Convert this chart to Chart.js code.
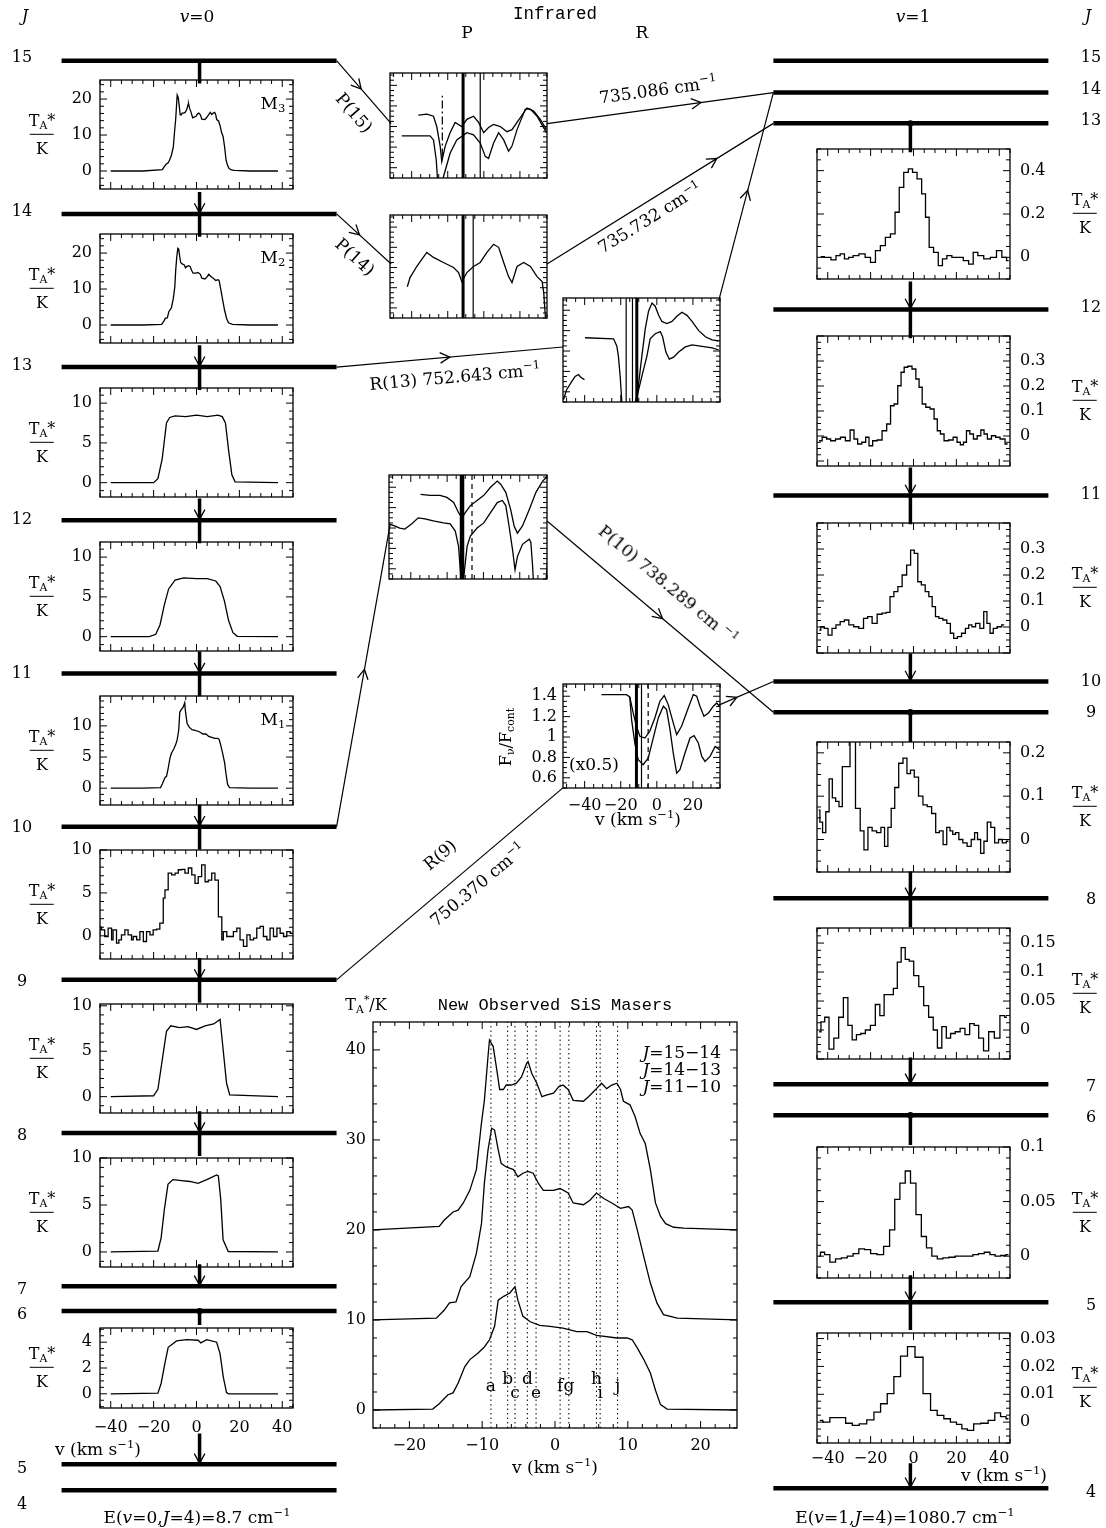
<!DOCTYPE html>
<html>
<head>
<meta charset="utf-8">
<title>SiS masers level diagram</title>
<script src="https://cdn.jsdelivr.net/npm/chart.js@4.4.1/dist/chart.umd.min.js"></script>
<style>
  html, body { margin: 0; padding: 0; background: #fff; }
  #page { position: relative; width: 1106px; height: 1528px; overflow: hidden; background: #fff;
          font-family: "DejaVu Serif", serif; color: #000; }
  #page canvas { position: absolute; }
  .t { position: absolute; white-space: nowrap; font-size: 17px; line-height: 1; }
  .t sup { font-size: 0.68em; vertical-align: 0.6em; line-height: 0; }
  .t sub { font-size: 0.68em; vertical-align: -0.3em; line-height: 0; }
  .mono { font-family: "Liberation Mono", "DejaVu Sans Mono", monospace; }
  .frac { display: flex; flex-direction: column; align-items: center; font-size: 16px; }
  .frac .bar { width: 24px; height: 1.4px; background: #000; margin: 5px 0 6px; }
</style>
</head>
<body>
<div id="page"><canvas id="diagram"></canvas></div>
<script>
Chart.defaults.font.family = '"DejaVu Serif", serif';
Chart.defaults.font.size = 16;
Chart.defaults.color = '#000';

// ---------------- data ----------------
// rotational levels J of the two ladders
const levelsJ = [15, 14, 13, 12, 11, 10, 9, 8, 7, 6, 5, 4];

// v=0 spectra, velocity (km/s) and TA* (K)
const velV0_1514 = [-40, -25, -15.9, -15.2, -14.0, -13.3, -12.6, -11.7, -10.8, -10.1, -9.7, -9.2, -9.0, -8.5, -8.0, -7.6, -7.1, -6.7, -6.0, -5.3, -4.6, -3.9, -3.7, -3.2, -2.5, -1.8, -1.1, -0.2, 0.5, 1.1, 1.8, 2.5, 3.9, 4.6, 5.7, 6.4, 7.1, 7.8, 8.5, 9.0, 9.4, 10.3, 11.0, 11.7, 12.4, 13.1, 13.8, 14.5, 15.2, 16.3, 17.7, 25, 38];
const taV0_1514 = [0, 0, 0.4, 1.1, 2.0, 2.2, 3.0, 4.4, 6.7, 11.9, 14.4, 19.3, 21.1, 20.4, 17.8, 15.6, 15.6, 16.1, 16.1, 16.3, 17.0, 18.5, 18.7, 17.4, 16.3, 14.8, 15.0, 15.2, 15.9, 16.1, 15.6, 14.4, 14.3, 14.8, 15.7, 16.3, 15.7, 16.1, 16.3, 15.6, 14.3, 13.9, 12.6, 10.7, 9.6, 6.7, 3.0, 1.5, 0.7, 0.3, 0.2, 0, 0];
const velV0_1413 = [-40, -25, -16.3, -15.2, -14.5, -13.6, -12.9, -11.7, -10.8, -10.1, -9.7, -9.2, -8.7, -8.3, -7.8, -7.4, -6.7, -5.7, -5.1, -4.4, -3.7, -3.0, -2.3, -1.6, -0.2, 0.7, 1.8, 2.5, 3.9, 4.8, 5.7, 6.7, 7.8, 9.0, 10.1, 10.6, 11.3, 12.2, 13.1, 14.0, 14.9, 16.8, 25, 38];
const taV0_1413 = [0, 0, 0.2, 1.1, 1.9, 2.0, 3.7, 4.8, 7.4, 10.7, 15.2, 18.9, 21.3, 21.1, 18.9, 17.4, 17.0, 16.7, 15.9, 16.3, 16.5, 16.3, 15.2, 14.4, 14.4, 14.6, 14.1, 13.0, 12.8, 13.3, 14.1, 13.5, 13.0, 12.4, 12.6, 12.2, 10.0, 7.0, 4.1, 1.9, 0.6, 0.2, 0, 0];
const velV0_1312 = [-40, -20, -18, -16, -14, -12.5, -10, -5, 0, 5, 10, 12, 13.5, 15, 16.5, 18, 38];
const taV0_1312 = [0, 0, 0.5, 3, 7.5, 8.2, 8.4, 8.3, 8.5, 8.3, 8.5, 8.3, 7.5, 4, 1, 0.1, 0];
const velV0_1211 = [-40, -22, -19, -17, -15, -13, -10, -6, 0, 5, 9, 11, 13, 15, 17, 19, 38];
const taV0_1211 = [0, 0, 0.3, 1.5, 4, 6, 7.1, 7.4, 7.3, 7.3, 7.0, 6.3, 4.5, 2, 0.5, 0.05, 0];
const velV0_1110 = [-40, -25, -16.8, -15.9, -14.7, -14.0, -13.3, -12.4, -11.7, -10.6, -9.7, -9.0, -8.3, -7.8, -7.1, -6.2, -5.5, -5.1, -4.4, -3.4, -2.1, -0.7, 1.1, 3.0, 4.4, 5.7, 8.5, 9.9, 10.6, 11.3, 12.2, 13.1, 13.8, 14.5, 15.4, 25, 38];
const taV0_1110 = [0, 0, 0.1, 0.7, 1.7, 1.9, 3.0, 4.8, 5.6, 6.3, 7.0, 7.8, 9.3, 12.2, 12.6, 13.0, 13.7, 12.2, 10.4, 9.8, 9.4, 9.3, 9.1, 8.7, 8.7, 8.3, 8.0, 8.0, 7.8, 6.9, 5.6, 4.1, 2.2, 0.6, 0.1, 0, 0];
const velV0_1009 = [-45.1, -44.3, -42.8, -41.2, -39.6, -38.9, -37.3, -36.2, -35.0, -33.4, -31.9, -30.3, -29.5, -27.9, -26.4, -24.8, -23.3, -21.7, -20.2, -18.6, -17.1, -15.5, -14.7, -13.2, -11.6, -10.0, -8.5, -6.9, -5.4, -3.8, -2.2, -0.7, 0.8, 2.4, 4.0, 5.5, 7.1, 8.6, 10.2, 11.8, 12.5, 14.1, 15.7, 17.2, 18.8, 20.3, 21.9, 23.5, 25.0, 26.6, 28.1, 29.7, 31.2, 32.8, 34.3, 35.9, 37.5, 39.0, 40.6, 42.1, 43.7, 45.2];
const taV0_1009 = [0.12, 1.0, 0.7, -0.08, 0.9, -0.47, 0.7, -0.85, -0.47, 0.12, 0.7, 0.12, -0.47, -0.08, -0.47, 0.5, -0.66, 0.5, 0.12, 0.7, 0.78, 1.47, 4.4, 5.35, 7.3, 7.1, 7.3, 7.7, 7.75, 7.3, 7.9, 7.1, 6.1, 6.9, 8.26, 6.3, 6.5, 7.3, 6.5, 2.2, -0.47, 0.5, -0.08, -0.08, 0.5, 0.9, -0.47, -1.24, 0.12, -0.47, -0.27, 0.9, 1.1, -0.08, -0.47, 0.9, -0.08, 0.9, 0.3, -0.08, 0.5, 0.3];
const velV0_0908 = [-40, -20, -18, -16, -14, -12, -8, -4, 0, 4, 8, 11, 12.5, 14, 15.5, 38];
const taV0_0908 = [0, 0.1, 0.8, 4, 7.2, 7.8, 7.6, 7.7, 7.4, 7.8, 8.0, 8.5, 5, 1.5, 0.2, 0];
const velV0_0807 = [-40, -18, -16.5, -15, -13.3, -11, -7, -3, 0.7, 4.8, 9.4, 10.2, 11.3, 12.4, 14.8, 38];
const taV0_0807 = [0, 0.1, 1.5, 4.5, 7.2, 7.7, 7.6, 7.5, 7.3, 7.7, 8.2, 8.1, 5.6, 1.3, 0.05, 0];
const velV0_0605 = [-40, -18, -16.5, -14.7, -13.2, -9.3, -4.6, 0.8, 2, 4.8, 9.4, 11, 12.5, 14, 15, 38];
const taV0_0605 = [0, 0.05, 0.8, 2.4, 3.6, 4.1, 4.2, 4.15, 3.95, 4.2, 4.0, 3.1, 1.3, 0.1, 0, 0];

// v=1 spectra (channel centres)
const velV1_1312 = [-43.3, -39.9, -37.1, -35.2, -33.2, -31.2, -29.3, -27.0, -23.9, -21.2, -18.9, -16.6, -14.3, -11.9, -9.6, -7.6, -5.7, -3.4, -1.4, 0.5, 2.8, 4.8, 6.4, 8.2, 10.5, 12.6, 14.4, 16.7, 19.1, 21.9, 24.5, 26.9, 28.8, 31.2, 34.3, 37.4, 40.0, 42.4, 44.4];
const taV1_1312 = [0.003, 0, -0.012, 0.008, 0.016, -0.007, 0, 0.008, 0.016, 0, -0.023, 0.031, 0.054, 0.092, 0.108, 0.208, 0.323, 0.392, 0.408, 0.392, 0.362, 0.293, 0.185, 0.046, 0.023, -0.038, -0.007, 0.008, 0, 0, -0.015, -0.031, 0.023, 0.008, -0.007, 0, 0.031, 0, -0.015];
const velV1_1211 = [-44.0, -41.2, -39.8, -37.5, -35.2, -32.9, -30.6, -28.5, -27.0, -25.1, -23.1, -21.5, -20.0, -18.1, -15.8, -13.5, -11.5, -9.9, -8.2, -6.5, -5.1, -3.6, -1.7, 0.3, 1.9, 3.3, 4.8, 6.7, 8.8, 10.4, 11.8, 13.3, 15.2, 17.5, 19.5, 21.1, 22.6, 24.0, 25.4, 27.1, 28.8, 30.6, 32.2, 33.6, 35.3, 37.4, 39.2, 41.5, 43.9];
const taV1_1211 = [-0.019, -0.005, -0.012, -0.019, -0.012, -0.005, -0.019, 0.024, -0.012, -0.032, -0.025, -0.005, -0.039, -0.019, -0.016, 0.021, 0.048, 0.121, 0.128, 0.201, 0.255, 0.275, 0.279, 0.268, 0.228, 0.195, 0.128, 0.115, 0.108, 0.068, 0.021, 0.008, -0.019, -0.016, -0.005, -0.025, -0.035, -0.025, 0.021, 0.008, -0.012, 0.001, 0.024, 0.008, -0.012, 0.001, -0.005, -0.012, -0.032];
const velV1_1110 = [-44.0, -42.5, -40.8, -38.9, -37.1, -35.2, -33.2, -31.3, -29.0, -26.7, -24.3, -22.3, -20.5, -18.1, -15.8, -13.6, -11.8, -10.1, -8.2, -6.4, -4.2, -2.2, -0.5, 1.2, 2.8, 4.5, 6.4, 7.9, 9.5, 11.0, 12.7, 14.7, 16.4, 18.0, 19.5, 21.4, 23.4, 25.0, 26.5, 28.0, 29.9, 32.0, 33.5, 35.0, 36.4, 38.0, 40.0, 42.3];
const taV1_1110 = [-0.012, 0.001, -0.005, -0.031, -0.005, 0.008, 0.021, 0.027, 0.008, 0.001, -0.005, 0.033, 0.040, 0.014, 0.049, 0.053, 0.056, 0.117, 0.136, 0.155, 0.2, 0.238, 0.296, 0.283, 0.174, 0.162, 0.136, 0.117, 0.078, 0.040, 0.033, 0.027, 0.014, -0.024, -0.044, -0.037, -0.024, -0.005, 0.008, 0.001, 0.014, -0.005, 0.059, 0.014, -0.024, -0.005, 0.001, 0.008];
const velV1_0908 = [-44.2, -43.1, -41.7, -40.1, -38.6, -37.1, -35.5, -34.0, -32.4, -30.8, -28.4, -25.7, -24.0, -22.2, -20.3, -18.3, -16.1, -14.3, -12.7, -11.2, -9.6, -7.9, -5.9, -3.9, -2.2, -0.6, 1.3, 3.4, 5.4, 7.4, 9.5, 11.2, 12.9, 14.7, 16.3, 17.7, 18.9, 20.3, 22.0, 24.0, 26.0, 27.8, 29.2, 30.5, 32.1, 33.6, 35.2, 36.9, 38.8, 40.5, 42.3, 44.3];
const taV1_0908 = [0.068, 0.04, 0.016, 0.064, 0.14, 0.096, 0.088, 0.076, 0.168, 0.168, 0.35, 0.072, 0.02, -0.024, 0.028, 0.02, 0.016, 0.028, -0.016, 0.028, 0.072, 0.12, 0.176, 0.188, 0.152, 0.16, 0.144, 0.1, 0.08, 0.076, 0.06, 0.016, 0.02, -0.012, 0.028, 0.02, 0.012, 0.016, 0, -0.008, -0.016, 0, 0.016, 0, -0.032, -0.004, 0.04, 0.028, -0.008, 0, -0.008, -0.004];
const velV1_0807 = [-44.0, -42.3, -40.5, -38.3, -36.0, -33.8, -31.6, -29.6, -27.6, -25.6, -23.6, -21.3, -18.9, -16.7, -14.7, -12.7, -10.4, -8.4, -6.7, -4.8, -2.9, -1.1, 1.3, 3.6, 5.9, 8.2, 10.2, 12.1, 14.3, 16.3, 18.3, 20.6, 22.9, 25.1, 27.3, 29.3, 31.5, 33.8, 36.3, 39.1, 41.5, 43.6];
const taV1_0807 = [-0.003, 0.014, 0.022, -0.033, -0.014, 0.022, 0.056, 0.008, -0.017, -0.008, -0.006, 0, 0.008, 0.044, 0.025, 0.061, 0.061, 0.072, 0.117, 0.142, 0.122, 0.119, 0.094, 0.075, 0.042, 0.022, 0, -0.031, 0.006, -0.014, -0.006, -0.003, 0.003, -0.008, 0.011, 0.008, -0.014, -0.036, -0.003, -0.014, 0.025, 0.022];
const velV1_0605 = [-44.2, -42.6, -40.3, -37.7, -35.0, -32.3, -29.5, -26.8, -24.2, -21.4, -18.6, -15.5, -12.4, -9.9, -7.6, -5.1, -2.6, -0.2, 2.5, 4.8, 7.3, 9.8, 12.4, 15.0, 18.0, 20.8, 23.6, 26.4, 29.0, 31.6, 34.4, 36.9, 39.2, 42.0, 44.3];
const taV1_0605 = [0, 0.0036, 0.0015, -0.0055, -0.0024, -0.0015, 0, 0.0024, 0.0067, 0.006, 0.0024, 0.0015, 0.009, 0.024, 0.052, 0.067, 0.078, 0.067, 0.038, 0.018, 0.0076, 0, -0.0024, -0.0015, -0.001, 0, 0, 0, 0.0015, 0.0024, 0.0036, 0.0015, 0, 0.0006, 0.0015];
const velV1_0504 = [-43.7, -40.9, -37.1, -33.2, -30.1, -27.0, -23.6, -20.0, -16.9, -13.8, -10.7, -7.6, -4.5, -1.1, 2.5, 6.4, 9.5, 12.6, 15.7, 18.7, 21.4, 23.7, 26.5, 29.6, 33.0, 36.6, 39.2, 42.0, 44.3];
const taV1_0504 = [0.0006, 0, 0.0016, 0.0016, -0.0004, -0.0012, -0.0006, 0.0008, 0.0036, 0.0066, 0.0102, 0.0163, 0.0237, 0.0271, 0.0233, 0.0102, 0.0042, 0.0024, 0.0012, 0, -0.0008, -0.0024, -0.003, -0.0006, -0.0004, 0.0006, 0.0033, 0.002, 0.0012];

// infrared line profiles, velocity (km/s) and F/Fcont (null = gap)
const irP15aV = [-36.3, -31.6, -27.9, -26.1, -24.2, -23.3, -21.4, -18.7, -15.9, -12.2, -9.4, -5.7, -2.9, -0.1, 2.6, 5.4, 9.1, 12.8, 15.6, 18.4, 23.9, 27.6, 31.3, 34.7];
const irP15aF = [1.11, 1.12, 1.10, 1.00, 0.81, 0.66, 0.81, 0.94, 1.04, 1.00, 1.07, 1.10, 1.04, 0.94, 0.99, 1.02, 1.00, 0.95, 0.97, 1.04, 1.18, 1.15, 1.07, 0.97];
const irP15bV = [-45.5, -29.8, -27.9, -26.4, -25.7, -25.0, -23.0, -22.4, -18.7, -15, -9.4, -5.7, -2, 0.8, 2.6, 5.4, 8.2, 11, 13.7, 15.6, 18.4, 23, 25.8, 29.5, 34.7];
const irP15bF = [0.91, 0.91, 0.87, 0.68, 0.50, 0.3, 0.3, 0.51, 0.74, 0.87, 0.94, 0.92, 0.84, 0.71, 0.69, 0.84, 0.94, 0.87, 0.76, 0.81, 0.97, 1.17, 1.17, 1.10, 0.94];
const irP14V = [-42.4, -40.9, -37.2, -34.4, -31.6, -27.9, -22.4, -16.8, -14, -12.2, -9.4, -5.7, -2, 1.7, 5.4, 8.2, 11, 13.7, 15.6, 18.4, 22.1, 25.8, 29.5, 32.3, 33.2, 34.1];
const irP14F = [0.81, 0.90, 1.01, 1.08, 1.15, 1.10, 1.05, 1.00, 0.95, 0.86, 0.95, 1.01, 1.05, 1.15, 1.23, 1.20, 1.05, 0.91, 0.85, 1.01, 1.05, 1.01, 0.91, 0.86, 0.75, 0.51];
const irR13aV = [-39.8, -24.0, -22.2, -21.3, -20.3, -19.4, -18.5, -11.8, -11.1, -10.1, -8.3, -6.4, -4.6, -2.7, -0.9, 1.0, 2.8, 5.6, 8.4, 11.1, 13.9, 16.7, 19.5, 23.2, 26.9, 30.6, 34.3];
const irR13aF = [1.13, 1.12, 1.05, 0.95, 0.75, 0.50, 0.3, 0.3, 0.50, 0.68, 0.95, 1.22, 1.39, 1.47, 1.44, 1.35, 1.29, 1.27, 1.29, 1.34, 1.38, 1.35, 1.29, 1.20, 1.14, 1.11, 1.10];
const irR13bV = [-51.8, -50, -47.2, -45.3, -43.5, -42, -40.1, -26, -12.8, -12, -10.1, -7.9, -5.5, -3.7, -0.9, 1.9, 3.2, 5.0, 6.9, 9.3, 12.1, 15.8, 19.5, 23.2, 26.9, 30.6, 34.3];
const irR13bF = [0.52, 0.62, 0.70, 0.75, 0.77, 0.74, 0.72, null, 0.3, 0.50, 0.62, 0.78, 0.95, 1.12, 1.17, 1.19, 1.14, 0.99, 0.92, 0.94, 0.99, 1.04, 1.06, 1.05, 1.04, 1.03, 1.01];
const irP10aV = [-34.6, -29.4, -23.9, -20.1, -16.4, -13.7, -11.8, -10.0, -7.2, -3.5, 0.2, 3.9, 7.6, 9.5, 12.3, 15.0, 16.9, 18.7, 21.5, 25.2, 28.9, 32.6, 35.4];
const irP10aF = [1.33, 1.32, 1.32, 1.30, 1.25, 1.15, 1.10, 1.15, 1.22, 1.27, 1.32, 1.40, 1.46, 1.43, 1.35, 1.18, 1.02, 0.95, 1.02, 1.18, 1.35, 1.46, 1.51];
const irP10bV = [-52, -48.9, -46.1, -43.3, -39.6, -35.9, -32.2, -27.6, -22.0, -18.3, -15.5, -13.7, -12.4, -12.0, -11.3, -10.9, -9.0, -7.2, -3.5, 0.2, 3.9, 7.6, 10.4, 12.3, 14.1, 16.0, 17.4, 18.7, 21.5, 25.2, 26.1, 27.1, 28.0, 33.6, 35.4];
const irP10bF = [1.04, 1.02, 1.00, 0.99, 1.04, 1.10, 1.09, 1.07, 1.05, 1.04, 0.97, 0.82, 0.51, 0.3, 0.3, 0.51, 0.82, 0.92, 1.00, 1.05, 1.15, 1.25, 1.27, 1.22, 1.02, 0.79, 0.59, 0.72, 0.84, 0.89, 0.86, 0.62, 0.3, 0.3, 0.69];
const irR9aV = [-30.7, -16.8, -15, -13.1, -11.3, -9.4, -6.6, -3.9, -1.1, 1.7, 4.1, 6.3, 9.1, 11.0, 13.7, 17.4, 20.2, 22.1, 23.9, 26.1, 28.6, 31.3, 33.2, 34.7];
const irR9aF = [1.416, 1.416, 1.393, 1.236, 1.105, 1.007, 0.99, 1.056, 1.187, 1.351, 1.407, 1.318, 1.138, 1.023, 1.105, 1.285, 1.416, 1.4, 1.302, 1.203, 1.236, 1.302, 1.334, 1.302];
const irR9bV = [-15, -14.0, -12.2, -10.3, -7.6, -4.8, -2.0, 0.8, 3.6, 5.4, 7.3, 9.1, 11.0, 12.8, 15.6, 18.4, 20.6, 23.0, 24.9, 26.7, 29.5, 32.3, 34.7];
const irR9bF = [1.393, 1.17, 0.941, 0.777, 0.728, 0.793, 0.99, 1.187, 1.302, 1.269, 1.072, 0.843, 0.646, 0.679, 0.843, 0.99, 1.013, 0.941, 0.81, 0.761, 0.81, 0.908, 0.875];

// marker velocities drawn across the infrared panels
const markP15 = [-11.5, -2.0, -23.0];
const markP14 = [-11.5, -5.9];
const markR13 = [-11.1, -13.5, -17.0];
const markP10 = [-11.8, -6.3];
const markR9 = [-11.3, -8.5, -4.8];

// maser features a..j in the combined panel
const maserIds = ['a', 'b', 'c', 'd', 'e', 'f', 'g', 'h', 'i', 'j'];
const maserVel = [-8.8, -6.5, -5.5, -3.8, -2.6, 0.7, 1.9, 5.7, 6.2, 8.6];
const stackOffset = [20, 10, 0];

// ---------------- layout ----------------
const page = document.getElementById('page');
const V0_X0 = 58, V0_X1 = 335, V0_MID = 197;
const V1_X0 = 775, V1_X1 = 1052, V1_MID = 913;
const v0LevelY = [57, 211, 365, 519, 673, 827, 981, 1135, 1289, 1314, 1468, 1494];
const v1LevelY = [57, 89, 120, 307, 494, 681, 712, 899, 1086, 1117, 1305, 1492];
const yV0 = J => v0LevelY[levelsJ.indexOf(J)];
const yV1 = J => v1LevelY[levelsJ.indexOf(J)];

const leftPanels = [
  {up: 15, lo: 14, top: 80, h: 109, vel: velV0_1514, ta: taV0_1514, yMin: -5, yMax: 25.3, ticks: [0, 10, 20], minor: 2, major: 10, tag: 'M<sub>3</sub>'},
  {up: 14, lo: 13, top: 234, h: 109, vel: velV0_1413, ta: taV0_1413, yMin: -5, yMax: 25.3, ticks: [0, 10, 20], minor: 2, major: 10, tag: 'M<sub>2</sub>'},
  {up: 13, lo: 12, top: 388, h: 109, vel: velV0_1312, ta: taV0_1312, yMin: -1.8, yMax: 11.9, ticks: [0, 5, 10], minor: 1, major: 5},
  {up: 12, lo: 11, top: 542, h: 109, vel: velV0_1211, ta: taV0_1211, yMin: -1.8, yMax: 11.9, ticks: [0, 5, 10], minor: 1, major: 5},
  {up: 11, lo: 10, top: 696, h: 109, vel: velV0_1110, ta: taV0_1110, yMin: -2.7, yMax: 14.8, ticks: [0, 5, 10], minor: 1, major: 5, tag: 'M<sub>1</sub>'},
  {up: 10, lo: 9, top: 850, h: 109, vel: velV0_1009, ta: taV0_1009, yMin: -2.7, yMax: 10, ticks: [0, 5, 10], minor: 1, major: 5, stepped: 'after'},
  {up: 9, lo: 8, top: 1004, h: 109, vel: velV0_0908, ta: taV0_0908, yMin: -1.8, yMax: 10.2, ticks: [0, 5, 10], minor: 1, major: 5},
  {up: 8, lo: 7, top: 1158, h: 109, vel: velV0_0807, ta: taV0_0807, yMin: -1.6, yMax: 10, ticks: [0, 5, 10], minor: 1, major: 5},
  {up: 6, lo: 5, top: 1328, h: 80, vel: velV0_0605, ta: taV0_0605, yMin: -1.1, yMax: 5.1, ticks: [0, 2, 4], minor: 0.5, major: 2, xAxis: true, gapBelow: 29}
];
const rightPanels = [
  {up: 13, lo: 12, top: 149, h: 130, vel: velV1_1312, ta: taV1_1312, yMin: -0.1, yMax: 0.5, ticks: [0, 0.2, 0.4], minor: 0.05, major: 0.2},
  {up: 12, lo: 11, top: 336, h: 130, vel: velV1_1211, ta: taV1_1211, yMin: -0.12, yMax: 0.4, ticks: [0, 0.1, 0.2, 0.3], minor: 0.025, major: 0.1},
  {up: 11, lo: 10, top: 523, h: 130, vel: velV1_1110, ta: taV1_1110, yMin: -0.1, yMax: 0.4, ticks: [0, 0.1, 0.2, 0.3], minor: 0.025, major: 0.1},
  {up: 9, lo: 8, top: 742, h: 130, vel: velV1_0908, ta: taV1_0908, yMin: -0.075, yMax: 0.225, ticks: [0, 0.1, 0.2], minor: 0.025, major: 0.1},
  {up: 8, lo: 7, top: 928, h: 131, vel: velV1_0807, ta: taV1_0807, yMin: -0.05, yMax: 0.176, ticks: [0, 0.05, 0.1, 0.15], minor: 0.0125, major: 0.05},
  {up: 6, lo: 5, top: 1147, h: 131, vel: velV1_0605, ta: taV1_0605, yMin: -0.02, yMax: 0.1, ticks: [0, 0.05, 0.1], minor: 0.01, major: 0.05},
  {up: 5, lo: 4, top: 1333, h: 110, vel: velV1_0504, ta: taV1_0504, yMin: -0.0075, yMax: 0.032, ticks: [0, 0.01, 0.02, 0.03], minor: 0.0025, major: 0.01, xAxis: true, gapBelow: 24}
];
const irBox = {
  P15: {x: 390, y: 73, w: 157, h: 105},
  P14: {x: 390, y: 215, w: 157, h: 103},
  R13: {x: 563, y: 298, w: 157, h: 104},
  P10: {x: 389, y: 475, w: 158, h: 104},
  R9: {x: 563, y: 684, w: 157, h: 104}
};
const IR_X = [-52, 35], IR_Y = [0.5, 1.52];

// ---------------- helpers ----------------
const tickText = v => (v < 0 ? '\u2212' + Math.abs(v) : String(v));

function eachTick(min, max, minor, major, fn) {
  const k0 = Math.ceil(min / minor - 1e-6), k1 = Math.floor(max / minor + 1e-6);
  for (let k = k0; k <= k1; k++) {
    const v = k * minor, r = v / major;
    fn(v, Math.abs(r - Math.round(r)) < 1e-6);
  }
}

// box with inward ticks on all four sides
const framePlugin = {
  id: 'frame',
  afterDatasetsDraw(chart, args, o) {
    const {ctx, chartArea: a} = chart;
    const xs = chart.scales.x, ys = chart.scales.y;
    ctx.save();
    ctx.strokeStyle = '#000';
    ctx.lineWidth = 1.3;
    ctx.strokeRect(a.left, a.top, a.right - a.left, a.bottom - a.top);
    ctx.lineWidth = 1;
    ctx.beginPath();
    eachTick(xs.min, xs.max, o.xMinor, o.xMajor, (v, big) => {
      const p = xs.getPixelForValue(v), l = big ? 7 : 4;
      ctx.moveTo(p, a.bottom); ctx.lineTo(p, a.bottom - l);
      ctx.moveTo(p, a.top); ctx.lineTo(p, a.top + l);
    });
    eachTick(ys.min, ys.max, o.yMinor, o.yMajor, (v, big) => {
      const p = ys.getPixelForValue(v), l = big ? 7 : 4;
      ctx.moveTo(a.left, p); ctx.lineTo(a.left + l, p);
      ctx.moveTo(a.right, p); ctx.lineTo(a.right - l, p);
    });
    ctx.stroke();
    ctx.restore();
  }
};

// open arrowheads on diagram segments
const arrowPlugin = {
  id: 'arrows',
  afterDatasetsDraw(chart) {
    const ctx = chart.ctx;
    chart.data.datasets.forEach((ds, i) => {
      if (ds.arrowAt === undefined) return;
      const [a, b] = chart.getDatasetMeta(i).data;
      const tx = a.x + (b.x - a.x) * ds.arrowAt, ty = a.y + (b.y - a.y) * ds.arrowAt;
      const ang = Math.atan2(b.y - a.y, b.x - a.x), len = 11, sp = 0.5;
      ctx.save();
      ctx.strokeStyle = '#000';
      ctx.lineWidth = 1.3;
      ctx.beginPath();
      ctx.moveTo(tx - len * Math.cos(ang - sp), ty - len * Math.sin(ang - sp));
      ctx.lineTo(tx, ty);
      ctx.lineTo(tx - len * Math.cos(ang + sp), ty - len * Math.sin(ang + sp));
      ctx.stroke();
      ctx.restore();
    });
  }
};

function curve(vs, fs, offset = 0, extra = {}) {
  return Object.assign({
    data: vs.map((v, i) => ({x: v, y: fs[i] === null ? null : fs[i] + offset})),
    showLine: true, borderColor: '#000', borderWidth: 1.3, pointRadius: 0, fill: false
  }, extra);
}

function vline(v, y0, y1, width, dash) {
  return {data: [{x: v, y: y0}, {x: v, y: y1}], showLine: true, borderColor: '#000',
          borderWidth: width, borderDash: dash || [], pointRadius: 0};
}

function makePanel(box, o) {
  const padL = o.padL ?? 10, padR = o.padR ?? 10, padT = 10, padB = o.padB ?? 10;
  const W = box.w + padL + padR, H = box.h + padT + padB;
  const cv = document.createElement('canvas');
  cv.width = W; cv.height = H;
  cv.style.left = (box.x - padL) + 'px';
  cv.style.top = (box.y - padT) + 'px';
  cv.style.width = W + 'px';
  cv.style.height = H + 'px';
  page.appendChild(cv);
  const yRight = o.yPos === 'right';
  const showY = !!o.yTicks, showX = !!o.xTicks;
  const chart = new Chart(cv, {
    type: 'scatter',
    data: {datasets: o.datasets},
    options: {
      responsive: false, animation: false, devicePixelRatio: 1, events: [],
      layout: {padding: {left: showY && !yRight ? 0 : padL, right: showY && yRight ? 0 : padR,
                         top: padT, bottom: showX ? 0 : padB}},
      plugins: {legend: {display: false}, tooltip: {enabled: false},
                frame: {xMinor: o.xMinor, xMajor: o.xMajor, yMinor: o.yMinor, yMajor: o.yMajor}},
      scales: {
        x: {type: 'linear', min: o.xMin, max: o.xMax, display: showX,
            grid: {display: false, drawTicks: false}, border: {display: false},
            ticks: {padding: o.xPad ?? 9, maxRotation: 0, autoSkip: false, callback: tickText},
            afterBuildTicks: s => { s.ticks = (o.xTicks || []).map(v => ({value: v})); },
            afterFit: s => { if (showX) { s.height = padB; s.paddingLeft = 0; s.paddingRight = 0; } }},
        y: {type: 'linear', min: o.yMin, max: o.yMax, display: showY, position: yRight ? 'right' : 'left',
            grid: {display: false, drawTicks: false}, border: {display: false},
            ticks: {padding: o.yPad ?? 8, autoSkip: false, callback: tickText},
            afterBuildTicks: s => { s.ticks = (o.yTicks || []).map(v => ({value: v})); },
            afterFit: s => { if (showY) { s.width = yRight ? padR : padL; s.paddingTop = 0; s.paddingBottom = 0; } }}
      }
    },
    plugins: [framePlugin]
  });
  return {chart, left: box.x - padL, top: box.y - padT};
}

function addText(html, x, y, o = {}) {
  const d = document.createElement('div');
  d.className = 't' + (o.cls ? ' ' + o.cls : '');
  d.innerHTML = html;
  d.style.left = x + 'px';
  d.style.top = y + 'px';
  if (o.size) d.style.fontSize = o.size + 'px';
  const ax = o.anchor === 'right' ? '-100%' : '-50%';
  d.style.transform = `translate(${ax},-50%)` + (o.rot ? ` rotate(${o.rot}deg)` : '');
  page.appendChild(d);
}

function addFrac(x, y) {
  addText('<span>T<sub>A</sub>*</span><span class="bar"></span><span>K</span>', x, y, {cls: 'frac'});
}

// ---------------- level diagram ----------------
const diagramSets = [];
function addSeg(x0, y0, x1, y1, width, arrowAt) {
  diagramSets.push({data: [{x: x0, y: y0}, {x: x1, y: y1}], showLine: true, borderColor: '#000',
                    borderWidth: width, pointRadius: 0, arrowAt});
}
levelsJ.forEach((J, i) => {
  addSeg(V0_X0, v0LevelY[i], V0_X1, v0LevelY[i], 4.5);
  addSeg(V1_X0, v1LevelY[i], V1_X1, v1LevelY[i], 4.5);
});
function ladder(panels, mid, levelY) {
  panels.forEach(p => {
    addSeg(mid, levelY(p.up), mid, p.top, 3.5);
    addSeg(mid, p.top + p.h + (p.gapBelow || 0), mid, levelY(p.lo) - 1, 3.5, 1);
  });
}
ladder(leftPanels, V0_MID, yV0);
ladder(rightPanels, V1_MID, yV1);

// infrared transitions: level end -> spectrum box -> level end
const edge = (b, side, f) => ({x: side === 'l' ? b.x : b.x + b.w, y: b.y + f * b.h});
function transition(y0, box, inF, outF, y1, arrow1, arrow2) {
  const a = edge(box, 'l', inF), b = edge(box, 'r', outF);
  addSeg(V0_X1, y0, a.x, a.y, 1.2, arrow1);
  addSeg(b.x, b.y, V1_X0, y1, 1.2, arrow2);
}
transition(yV0(15), irBox.P15, 0.45, 0.45, yV1(14), 0.45, 0.68);
transition(yV0(14), irBox.P14, 0.45, 0.45, yV1(13), 0.42, 0.75);
transition(yV0(13), irBox.R13, 0.45, 0.0, yV1(14), 0.5, 0.53);
transition(yV0(10), irBox.P10, 0.46, 0.43, yV1(9), 0.52, 0.51);
transition(yV0(9), irBox.R9, 1.0, 0.2, yV1(10), undefined, 0.33);

const dotSet = {
  data: [{x: V0_MID, y: yV0(6)}, {x: V1_MID, y: yV1(13)}, {x: V1_MID, y: yV1(9)}, {x: V1_MID, y: yV1(6)}],
  showLine: false, pointRadius: 3.2, pointBackgroundColor: '#000', pointBorderWidth: 0
};

const dcv = document.getElementById('diagram');
dcv.width = 1106; dcv.height = 1528;
dcv.style.left = '0px'; dcv.style.top = '0px';
dcv.style.width = '1106px'; dcv.style.height = '1528px';
new Chart(dcv, {
  type: 'scatter',
  data: {datasets: [...diagramSets, dotSet]},
  options: {
    responsive: false, animation: false, devicePixelRatio: 1, events: [],
    layout: {padding: 0},
    plugins: {legend: {display: false}, tooltip: {enabled: false}},
    scales: {
      x: {type: 'linear', min: 0, max: 1106, display: false},
      y: {type: 'linear', min: 0, max: 1528, reverse: true, display: false}
    }
  },
  plugins: [arrowPlugin]
});

// ---------------- spectra panels ----------------
leftPanels.forEach(p => {
  makePanel({x: 100, y: p.top, w: 193, h: p.h}, {
    xMin: -45, xMax: 45, yMin: p.yMin, yMax: p.yMax,
    xTicks: p.xAxis ? [-40, -20, 0, 20, 40] : null, yTicks: p.ticks,
    xMinor: 5, xMajor: 20, yMinor: p.minor, yMajor: p.major,
    padL: 48, padB: p.xAxis ? 34 : 10, xPad: 10,
    datasets: [curve(p.vel, p.ta, 0, p.stepped ? {stepped: p.stepped} : {})]
  });
  addFrac(42, p.top + p.h / 2);
  if (p.tag) addText(p.tag, 273, p.top + 23);
});

rightPanels.forEach(p => {
  makePanel({x: 817, y: p.top, w: 193, h: p.h}, {
    xMin: -45, xMax: 45, yMin: p.yMin, yMax: p.yMax, yPos: 'right',
    xTicks: p.xAxis ? [-40, -20, 0, 20, 40] : null, yTicks: p.ticks,
    xMinor: 5, xMajor: 20, yMinor: p.minor, yMajor: p.major,
    padR: 54, padB: p.xAxis ? 34 : 10, xPad: 6, yPad: 10,
    datasets: [curve(p.vel, p.ta, 0, {stepped: 'middle'})]
  });
  addFrac(1085, p.top + p.h / 2);
});

const irOpts = {xMin: IR_X[0], xMax: IR_X[1], yMin: IR_Y[0], yMax: IR_Y[1], xMinor: 5, xMajor: 20, yMinor: 0.05, yMajor: 0.2};
const thick = v => vline(v, IR_Y[0], IR_Y[1], 3);
const thin = v => vline(v, IR_Y[0], IR_Y[1], 1.2);
const dashed = v => vline(v, IR_Y[0], IR_Y[1], 1.2, [5, 4]);

makePanel(irBox.P15, Object.assign({}, irOpts, {datasets: [
  curve(irP15aV, irP15aF), curve(irP15bV, irP15bF),
  thick(markP15[0]), thin(markP15[1]), vline(markP15[2], 0.71, 1.30, 1.2, [8, 3, 2, 3])]}));
makePanel(irBox.P14, Object.assign({}, irOpts, {datasets: [
  curve(irP14V, irP14F), thick(markP14[0]), thin(markP14[1])]}));
makePanel(irBox.R13, Object.assign({}, irOpts, {datasets: [
  curve(irR13aV, irR13aF), curve(irR13bV, irR13bF),
  thick(markR13[0]), thin(markR13[1]), thin(markR13[2])]}));
makePanel(irBox.P10, Object.assign({}, irOpts, {datasets: [
  curve(irP10aV, irP10aF), curve(irP10bV, irP10bF), vline(markP10[0], IR_Y[0], IR_Y[1], 4.5), dashed(markP10[1])]}));
makePanel(irBox.R9, Object.assign({}, irOpts, {
  xTicks: [-40, -20, 0, 20], yTicks: [0.6, 0.8, 1, 1.2, 1.4], padL: 46, padB: 32, xPad: 8, yPad: 6,
  datasets: [curve(irR9aV, irR9aF), curve(irR9bV, irR9bF), thick(markR9[0]), thin(markR9[1]), dashed(markR9[2])]}));

// combined maser panel
const maserPanel = makePanel({x: 373, y: 1022, w: 364, h: 406}, {
  xMin: -25, xMax: 25, yMin: -2, yMax: 43.1,
  xTicks: [-20, -10, 0, 10, 20], yTicks: [0, 10, 20, 30, 40],
  xMinor: 2, xMajor: 10, yMinor: 2, yMajor: 10,
  padL: 44, padB: 34, xPad: 8, yPad: 7,
  datasets: [
    ...maserVel.map(v => vline(v, -2, 43.1, 1, [1.5, 3])),
    curve(velV0_1514, taV0_1514, stackOffset[0]),
    curve(velV0_1413, taV0_1413, stackOffset[1]),
    curve(velV0_1110, taV0_1110, stackOffset[2])
  ]
});
const letterRowY = [1378, 1385, 1392];
const letterRow = [1, 0, 2, 0, 2, 1, 1, 0, 2, 1];
maserIds.forEach((id, i) => {
  const px = maserPanel.left + maserPanel.chart.scales.x.getPixelForValue(maserVel[i]);
  addText(id, px, letterRowY[letterRow[i]], {size: 17});
});

// ---------------- labels ----------------
levelsJ.forEach((J, i) => {
  addText(String(J), 22, J === 4 ? v0LevelY[i] + 10 : v0LevelY[i], {size: 16});
  addText(String(J), 1091, v1LevelY[i], {size: 16});
});
addText('<i>J</i>', 25, 16, {size: 16});
addText('<i>v</i>=0', 197, 16);
addText('Infrared', 555, 15, {cls: 'mono', size: 17.5});
addText('P', 467, 32);
addText('R', 642, 32);
addText('<i>v</i>=1', 913, 16);
addText('<i>J</i>', 1088, 16, {size: 16});

addText('P(15)', 354, 113, {rot: 49});
addText('735.086 cm<sup>\u22121</sup>', 658, 90, {rot: -7.7});
addText('P(14)', 355, 257, {rot: 42});
addText('735.732 cm<sup>\u22121</sup>', 650, 218, {rot: -31.7});
addText('R(13) 752.643 cm<sup>\u22121</sup>', 455, 377, {rot: -5});
addText('P(10) 738.289 cm <sup>\u22121</sup>', 668, 585, {rot: 40});
addText('R(9)', 440, 855, {rot: -40});
addText('750.370 cm<sup>\u22121</sup>', 478, 885, {rot: -40});

addText('(x0.5)', 594, 764);
addText('F<sub>\u03bd</sub>/F<sub>cont</sub>', 506, 737, {rot: -90, size: 16});
addText('v (km s<sup>\u22121</sup>)', 638, 819);

addText('T<sub>A</sub><sup>*</sup>/K', 366, 1005, {size: 16});
addText('New Observed SiS Masers', 555, 1005, {cls: 'mono', size: 17});
addText('<i>J</i>=15\u221214', 721, 1052, {anchor: 'right'});
addText('<i>J</i>=14\u221213', 721, 1069, {anchor: 'right'});
addText('<i>J</i>=11\u221210', 721, 1086, {anchor: 'right'});
addText('v (km s<sup>\u22121</sup>)', 555, 1467);

addText('v (km s<sup>\u22121</sup>)', 98, 1449);
addText('v (km s<sup>\u22121</sup>)', 1004, 1475);
addText('E(<i>v</i>=0,<i>J</i>=4)=8.7 cm<sup>\u22121</sup>', 197, 1517);
addText('E(<i>v</i>=1,<i>J</i>=4)=1080.7 cm<sup>\u22121</sup>', 905, 1517);
</script>
</body>
</html>
